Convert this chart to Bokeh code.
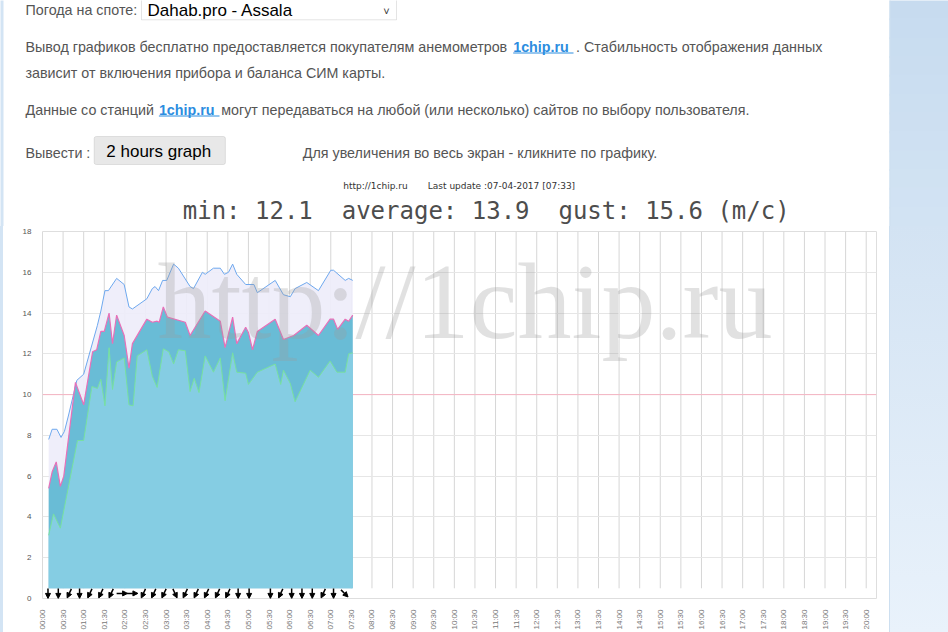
import math
from bokeh.plotting import figure
from bokeh.layouts import column, row
from bokeh.models import (Label, BoxAnnotation, Arrow, NormalHead, ColumnDataSource,
                          FixedTicker, Range1d, Span, Div)
from bokeh.embed import file_html
from bokeh.resources import INLINE

# ---------------- data ----------------
gust_time = ["00:09", "00:14", "00:21", "00:27", "00:32", "00:38", "00:50", "01:00",
             "01:20", "01:25", "01:31", "01:36", "01:48", "01:59", "02:06", "02:11",
             "02:32", "02:40", "02:44", "02:49", "02:55", "03:01", "03:11", "03:18",
             "03:35", "03:40", "03:53", "03:57", "04:09", "04:19", "04:25", "04:31",
             "04:37", "04:43", "04:56", "05:08", "05:13", "05:39", "05:51", "06:01",
             "06:08", "06:25", "06:42", "07:00", "07:04", "07:21", "07:26", "07:32"]
gust_speed = [7.8, 8.3, 8.3, 7.9, 8.2, 9.0, 10.7, 11.0,
              13.4, 14.1, 15.1, 15.1, 15.7, 15.4, 14.3, 14.2,
              14.7, 15.2, 15.3, 15.1, 15.6, 15.6, 16.4, 16.2,
              15.3, 15.2, 16.0, 15.9, 16.2, 16.2, 15.9, 16.0,
              16.4, 15.9, 15.4, 15.4, 15.0, 15.6, 14.9, 14.8,
              15.2, 15.5, 15.1, 16.1, 16.1, 15.6, 15.7, 15.6]

avg_time = ["00:09", "00:14", "00:20", "00:26", "00:31", "00:48", "01:00", "01:13",
            "01:19", "01:25", "01:30", "01:37", "01:42", "01:48", "01:59", "02:06",
            "02:11", "02:32", "02:40", "02:47", "02:50", "02:56", "03:02", "03:28",
            "03:35", "03:57", "04:19", "04:26", "04:37", "04:43", "04:56", "05:00",
            "05:06", "05:13", "05:39", "05:51", "06:06", "06:25", "06:42", "06:59",
            "07:04", "07:10", "07:21", "07:26", "07:32"]
avg_speed = [5.4, 6.2, 6.7, 5.5, 6.0, 10.6, 9.5, 12.1,
             12.2, 13.1, 13.1, 14.0, 12.5, 13.9, 12.9, 11.3,
             12.5, 13.7, 13.55, 13.6, 13.55, 14.3, 13.8, 13.55,
             12.9, 14.1, 13.6, 12.3, 13.8, 12.5, 13.3, 13.05,
             12.2, 13.1, 13.7, 12.7, 12.9, 13.4, 12.9, 13.7,
             13.7, 13.2, 13.7, 13.6, 13.9]

min_time = ["00:09", "00:16", "00:26", "00:51", "01:00", "01:12", "01:20", "01:25",
            "01:31", "01:37", "01:42", "01:48", "01:59", "02:06", "02:12", "02:18",
            "02:32", "02:40", "02:47", "02:56", "03:04", "03:11", "03:18", "03:28",
            "03:35", "03:41", "03:48", "03:57", "04:09", "04:19", "04:26", "04:37",
            "04:43", "04:56", "05:00", "05:13", "05:39", "05:47", "05:51", "06:01",
            "06:08", "06:30", "06:42", "06:59", "07:09", "07:21", "07:26", "07:32"]
min_speed = [3.1, 4.15, 3.45, 7.75, 7.75, 10.4, 10.3, 10.75,
             9.45, 12.3, 10.25, 11.6, 11.8, 9.5, 9.45, 11.9,
             12.2, 10.9, 10.35, 12.25, 12.1, 11.5, 12.2, 12.15,
             10.15, 10.8, 10.1, 11.9, 11.1, 11.8, 9.7, 12.05,
             11.1, 11.05, 10.5, 11.1, 11.5, 10.5, 11.2, 10.55,
             9.65, 11.2, 10.85, 11.65, 11.1, 11.1, 12.0, 12.05]

# wind direction arrows: time and compass bearing the arrow points to
arrow_time = ["00:08", "00:23", "00:39", "00:54", "01:09", "01:25", "01:40", "01:56",
              "02:11", "02:27", "02:42", "02:57", "03:13", "03:28", "03:44", "03:59",
              "04:15", "04:30", "04:45", "05:01", "05:32", "05:47", "06:03", "06:18",
              "06:33", "06:49", "07:04", "07:20"]
arrow_deg = [180, 180, 205, 180, 205, 205, 205, 90,
             90, 205, 205, 205, 155, 205, 205, 205,
             205, 205, 180, 180, 180, 205, 180, 180,
             180, 205, 180, 135]

tick_labels = ["00:00", "00:30", "01:00", "01:30", "02:00", "02:30", "03:00", "03:30",
               "04:00", "04:30", "05:00", "05:30", "06:00", "06:30", "07:00", "07:30",
               "08:00", "08:30", "09:00", "09:30", "10:00", "10:30", "11:00", "11:30",
               "12:00", "12:30", "13:00", "13:30", "14:00", "14:30", "15:00", "15:30",
               "16:00", "16:30", "17:00", "17:30", "18:00", "18:30", "19:00", "19:30",
               "20:00"]
y_ticks = [0, 2, 4, 6, 8, 10, 12, 14, 16, 18]
alert_level = 10
stat_min, stat_avg, stat_gust = 12.1, 13.9, 15.6
last_update = "07-04-2017 [07:33]"


def to_min(s):
    h, m = s.split(":")
    return int(h) * 60 + int(m)


gx = [to_min(t) for t in gust_time]
ax = [to_min(t) for t in avg_time]
mx = [to_min(t) for t in min_time]
tick_min = [to_min(t) for t in tick_labels]

# ---------------- page geometry (page pixels) ----------------
W, H = 948, 632
HDR_H = 226            # header strip height
STRIPE = 3             # light blue strip at the left page edge
PANEL_X = 889          # left edge of the blue side panel
CH_H = H - HDR_H
CH_W = PANEL_X - STRIPE
F_LEFT, F_RIGHT, F_TOP, F_BOT = 42, 876, 231, 598   # chart plot area on the page
X_END = 1215
Y_END = 18
BASE = 0.5
BCORR = 0.26   # baseline correction factor for labels (fraction of font size)
C_TOP = (0xc6, 0xdb, 0xef)
C_BOT = (0xe9, 0xf2, 0xfb)
STRIPE_COL = "#d3e4f4"


def grad(fr):
    return "#%02x%02x%02x" % tuple(int(round(a + (b - a) * fr)) for a, b in zip(C_TOP, C_BOT))


def deco_fig(x0, y0, w, h):
    f = figure(width=w, height=h, output_backend="svg", toolbar_location=None,
               x_range=Range1d(x0, x0 + w), y_range=Range1d(y0 + h, y0),
               x_axis_type=None, y_axis_type=None, min_border=0,
               outline_line_color=None, background_fill_color="white",
               border_fill_color="white")
    return f


def add_text(f, txt, x, y, size, color="#555555", font="Liberation Sans", style="normal",
             align="left", alpha=1.0):
    f.add_layout(Label(x=x, y=y - BCORR * size, text=txt, text_font=font,
                       text_font_size=f"{size}px", text_color=color,
                       text_font_style=style, text_align=align,
                       text_baseline="alphabetic", text_alpha=alpha))


def add_box(f, l, t, r, b, fill, line=None, lw=1, radius=0):
    f.add_layout(BoxAnnotation(left=l, right=r, top=t, bottom=b, fill_color=fill,
                               fill_alpha=1.0, line_color=line, line_width=lw,
                               border_radius=radius))


# ---------------- header ----------------
hdr = deco_fig(0, 0, W, HDR_H)
nb = 12
for i in range(nb):
    y0, y1 = i * HDR_H / nb, (i + 1) * HDR_H / nb
    add_box(hdr, PANEL_X, y0 - 1, W + 2, y1 + 1, grad((y0 + y1) / 2 / H))
add_box(hdr, PANEL_X, -2, PANEL_X + 1, HDR_H + 2, "#cddff0")
add_box(hdr, -2, -2, STRIPE, HDR_H + 2, STRIPE_COL)

TXT = "#555555"
LINK = "#2c8de0"
FS = 14.3
add_text(hdr, "Погода на споте:", 25, 13.5, FS, TXT)
add_box(hdr, 141, -3, 396, 19.3, "white", line="#a6a6a6")
add_text(hdr, "Dahab.pro - Assala", 147, 14, 17, "#000000")
add_text(hdr, "˅", 386, 13, 11, "#333333", align="center")

add_text(hdr, "Вывод графиков бесплатно предоставляется покупателям анемометров", 25, 50.7, FS, TXT)
add_text(hdr, "1chip.ru", 512.7, 50.7, FS, LINK, style="bold")
add_box(hdr, 512.7, 52, 573, 53, LINK)
add_text(hdr, ". Стабильность отображения данных", 575.6, 50.7, FS, TXT)
add_text(hdr, "зависит от включения прибора и баланса СИМ карты.", 25, 76.7, FS, TXT)

add_text(hdr, "Данные со станций", 25, 113.5, FS, TXT)
add_text(hdr, "1chip.ru", 158.4, 113.5, FS, LINK, style="bold")
add_box(hdr, 158.4, 115, 219, 116, LINK)
add_text(hdr, "могут передаваться на любой (или несколько) сайтов по выбору пользователя.",
         220.7, 113.5, FS, TXT)

add_text(hdr, "Вывести :", 25, 156, FS, TXT)
add_box(hdr, 93.7, 136, 224.9, 164, "#e8e8e8", line="#adadad", radius=2)
add_text(hdr, "2 hours graph", 105.8, 155.7, 17, "#000000")
add_text(hdr, "Для увеличения во весь экран - кликните по графику.", 302.3, 156, FS, TXT)

add_text(hdr, "http://1chip.ru", 342.7, 188, 9, "#333333", font="DejaVu Sans")
add_text(hdr, "Last update :" + last_update, 427.3, 188, 9, "#333333", font="DejaVu Sans")
SP2 = "\u00a0\u00a0"
title = f"min: {stat_min}{SP2}average: {stat_avg}{SP2}gust: {stat_gust} (m/c)"
add_text(hdr, title, 485.7, 216.5, 24, "#4d4d4d", font="DejaVu Sans Mono", align="center")

# ---------------- chart ----------------
p = figure(width=CH_W, height=CH_H, output_backend="svg", toolbar_location=None,
           x_range=Range1d(0, X_END), y_range=Range1d(0, Y_END),
           min_border_left=F_LEFT - STRIPE, min_border_right=PANEL_X - F_RIGHT,
           min_border_top=F_TOP - HDR_H, min_border_bottom=H - F_BOT,
           background_fill_color="white", border_fill_color="white",
           outline_line_color="#dedede", margin=0)

p.xaxis.ticker = FixedTicker(ticks=tick_min)
p.xaxis.major_label_overrides = {t: l for t, l in zip(tick_min, tick_labels)}
p.xaxis.major_label_orientation = math.pi / 2
p.xaxis.major_label_text_font_size = "8px"
p.xaxis.major_label_text_font = "Liberation Sans"
p.xaxis.major_label_text_color = "#777777"
p.xaxis.major_label_standoff = 5
p.yaxis.ticker = FixedTicker(ticks=y_ticks)
p.yaxis.major_label_text_font_size = "8px"
p.yaxis.major_label_text_font = "Liberation Sans"
p.yaxis.major_label_text_color = "#555555"
p.yaxis.major_label_standoff = 5
for a in (p.xaxis, p.yaxis):
    a.axis_line_color = None
    a.major_tick_line_color = None
    a.minor_tick_line_color = None

p.xgrid.visible = False
p.ygrid.ticker = FixedTicker(ticks=y_ticks)
p.ygrid.grid_line_color = "#e6e6e6"

n = len(tick_min)
p.segment(x0=tick_min, y0=[BASE] * n, x1=tick_min, y1=[Y_END] * n,
          line_color="#d6d6d6", line_width=1, level="underlay")
p.add_layout(Span(location=alert_level, dimension="width", line_color="#f4b3c2",
                  line_width=1, level="underlay"))

p.varea(x=gx, y1=BASE, y2=gust_speed, fill_color="#eeedfa", fill_alpha=0.92)
p.varea(x=ax, y1=BASE, y2=avg_speed, fill_color="#5db7d3", fill_alpha=0.92)
p.varea(x=mx, y1=BASE, y2=min_speed, fill_color="#88cee4", fill_alpha=0.92)
p.line(gx, gust_speed, line_color="#6ea8ee", line_width=1)
p.line(ax, avg_speed, line_color="#e870b8", line_width=1.2)
p.line(mx, min_speed, line_color="#78e0a0", line_width=1)

ppm = (F_RIGHT - F_LEFT) / X_END
ppu = (F_BOT - F_TOP) / Y_END
ARROW_Y = 0.25
x0s, y0s, x1s, y1s = [], [], [], []
for t, d in zip(arrow_time, arrow_deg):
    L = 11 if d == 90 else 10
    dx = math.sin(math.radians(d)) * L
    dy = math.cos(math.radians(d)) * L
    c = to_min(t)
    x0s.append(c - dx / 2 / ppm)
    x1s.append(c + dx / 2 / ppm)
    y0s.append(ARROW_Y - dy / 2 / ppu)
    y1s.append(ARROW_Y + dy / 2 / ppu)
asrc = ColumnDataSource(dict(x0=x0s, y0=y0s, x1=x1s, y1=y1s))
p.add_layout(Arrow(end=NormalHead(size=5, fill_color="black", line_color="black", line_width=1),
                   x_start="x0", y_start="y0", x_end="x1", y_end="y1", source=asrc,
                   line_color="black", line_width=1.5))

# watermark (screen units relative to the plot area)
WM = 108
p.add_layout(Label(x=157 - F_LEFT, y=F_BOT - (329 - BCORR * WM), x_units="screen",
                   y_units="screen", text="http://1chip.ru", text_font="Liberation Serif",
                   text_font_size=f"{WM}px", text_color="#9a9a9a", text_alpha=0.3,
                   text_baseline="alphabetic"))

# ---------------- side strips ----------------
left_strip = Div(width=STRIPE, height=CH_H, margin=0, styles={"background": STRIPE_COL})
side = Div(width=W - PANEL_X, height=CH_H, margin=0,
           styles={"background": f"linear-gradient(to bottom, {grad(HDR_H / H)}, {grad(1.0)})",
                   "border-left": "1px solid #cddff0", "box-sizing": "border-box"})

layout = column(row(hdr, margin=0), row(left_strip, p, side, margin=0), margin=0)
open("out.html", "w").write(file_html(layout, INLINE))
